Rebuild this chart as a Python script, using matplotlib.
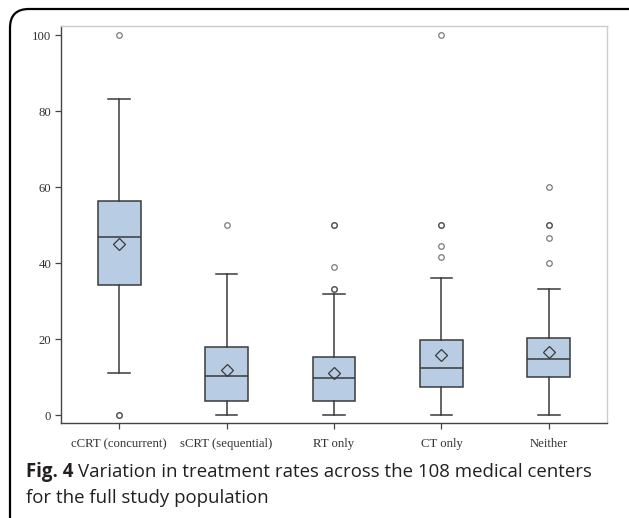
import matplotlib
matplotlib.use('Agg')
import matplotlib.pyplot as plt
from matplotlib.patches import FancyBboxPatch

# values
categories = ["cCRT (concurrent)", "sCRT (sequential)", "RT only", "CT only", "Neither"]
whis_low = [11.1, 0.0, 0.0, 0.0, 0.0]
q1 = [34.3, 3.8, 3.8, 7.3, 10.0]
medians = [46.8, 10.3, 9.8, 12.5, 14.7]
q3 = [56.3, 17.9, 15.3, 19.7, 20.3]
whis_high = [83.2, 37.1, 31.8, 36.1, 33.3]
means = [45.0, 11.9, 11.0, 15.8, 16.6]
outliers = [
  [0, 0, 100],
  [50],
  [33.3, 33.3, 39.0, 50, 50],
  [41.7, 44.4, 50, 50, 100],
  [40.0, 46.7, 50, 50, 60],
]

W, H = 629, 518
fig = plt.figure(figsize=(W / 100, H / 100), dpi=100)

# rounded frame around figure and caption
frame = FancyBboxPatch((10 / W, -0.2), (W + 20) / W, (H - 9) / H + 0.2,
                       boxstyle="round,pad=0,rounding_size=0.03",
                       transform=fig.transFigure, fill=False,
                       edgecolor="black", linewidth=1.6, mutation_aspect=W / H)
fig.patches.append(frame)

ax = fig.add_axes([61 / W, 1 - 423 / H, (607 - 61) / W, (423 - 26) / H])

stats = []
for i in range(len(categories)):
  stats.append(dict(whislo=whis_low[i], q1=q1[i], med=medians[i], q3=q3[i],
                    whishi=whis_high[i], mean=means[i], fliers=outliers[i]))

edge = "#3a3a3a"
ax.bxp(stats, positions=range(len(categories)), widths=0.4, patch_artist=True,
       showmeans=True, showfliers=True,
       boxprops=dict(facecolor="#b8cce4", edgecolor=edge, linewidth=1.1),
       medianprops=dict(color=edge, linewidth=1.1),
       whiskerprops=dict(color=edge, linewidth=1.1),
       capprops=dict(color=edge, linewidth=1.1),
       capwidths=0.2,
       meanprops=dict(marker="D", markersize=6.5, markerfacecolor="none",
                      markeredgecolor=edge, markeredgewidth=0.9),
       flierprops=dict(marker="o", markersize=4, markerfacecolor="none",
                       markeredgecolor=(0.2, 0.2, 0.2, 0.65), markeredgewidth=0.9))

ax.set_xlim(-0.54, 4.54)
ax.set_ylim(-2.1, 102.4)
ax.set_yticks([0, 20, 40, 60, 80, 100])
ax.set_xticks(range(len(categories)))
ax.set_xticklabels(categories)

for s in ["left", "bottom"]:
  ax.spines[s].set_color("#444444")
  ax.spines[s].set_linewidth(1.0)
for s in ["top", "right"]:
  ax.spines[s].set_color("#cccccc")
  ax.spines[s].set_linewidth(1.0)

ax.tick_params(direction="out", length=4, width=0.9, color="#444444",
               labelsize=9.2, labelcolor="#333333", pad=3)
for lab in ax.get_xticklabels() + ax.get_yticklabels():
  lab.set_fontfamily("Liberation Serif")
ax.tick_params(axis="x", pad=7)

# caption
cap_color = "#231f20"
cap_font = "Open Sans"
cap_size = 13.4
t1 = fig.text(26 / W, 1 - 477 / H, "Fig. 4", fontfamily=cap_font,
              fontweight="bold", fontsize=cap_size, color=cap_color, va="baseline")
fig.canvas.draw()
bb = t1.get_window_extent(fig.canvas.get_renderer())
fig.text((bb.x1 + 5) / W, 1 - 477 / H,
         "Variation in treatment rates across the 108 medical centers",
         fontfamily=cap_font, fontsize=cap_size, color=cap_color, va="baseline")
fig.text(26 / W, 1 - 503 / H, "for the full study population",
         fontfamily=cap_font, fontsize=cap_size, color=cap_color, va="baseline")

fig.savefig("out.png", dpi=100)
